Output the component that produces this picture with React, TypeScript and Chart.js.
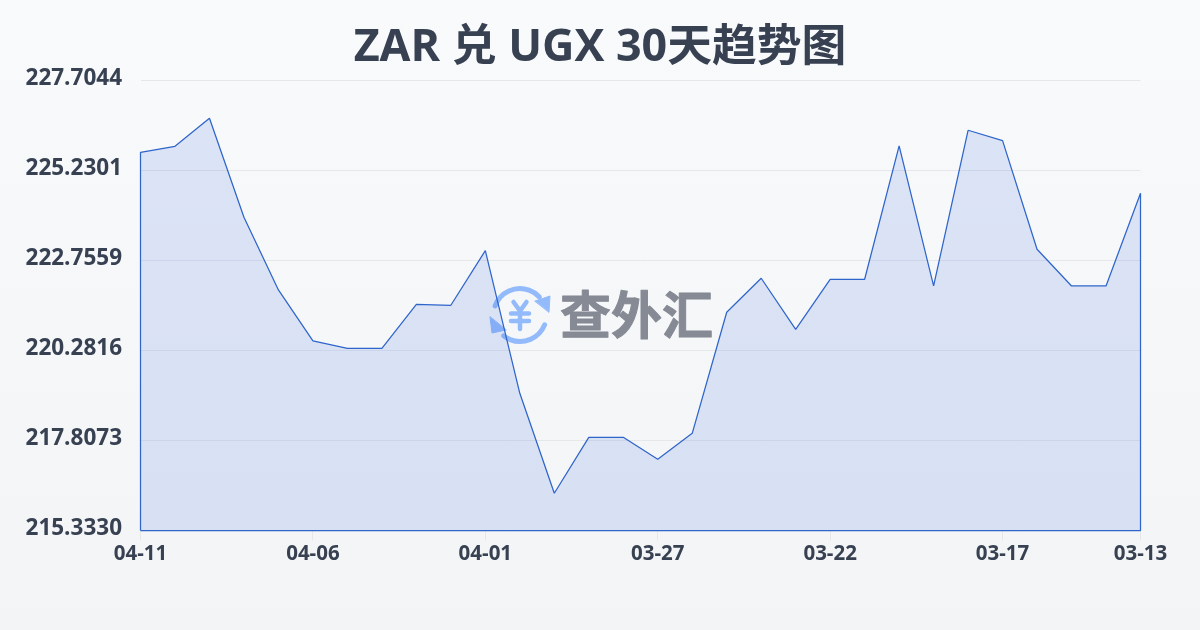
import React, { useEffect, useRef } from "react";
import { Chart, registerables } from "chart.js";

Chart.register(...registerables);

const titleText = "ZAR 兑 UGX 30天趋势图";
const dates = [
  "04-11", "04-10", "04-09", "04-08", "04-07", "04-06", "04-05", "04-04", "04-03", "04-02",
  "04-01", "03-31", "03-30", "03-29", "03-28", "03-27", "03-26", "03-25", "03-24", "03-23",
  "03-22", "03-21", "03-20", "03-19", "03-18", "03-17", "03-16", "03-15", "03-14", "03-13",
];
const rates = [
  225.73, 225.895, 226.665, 223.944, 221.945, 220.543, 220.342, 220.342, 221.552, 221.524,
  223.025, 219.105, 216.356, 217.895, 217.895, 217.29, 218.005, 221.332, 222.267, 220.864,
  222.239, 222.239, 225.904, 222.055, 226.335, 226.049, 223.064, 222.055, 222.055, 224.603,
];
const yTicks = [215.333, 217.8073, 220.2816, 222.7559, 225.2301, 227.7044];
const xTickIndexes = [0, 5, 10, 15, 20, 25, 29];
const sansStack = '"Open Sans", "Noto Sans CJK SC", sans-serif';

const watermark = {
  id: "watermark",
  beforeDatasetsDraw(chart: any) {
    const c = chart.ctx;
    c.save();
    c.strokeStyle = "#93bbfb";
    c.fillStyle = "#93bbfb";
    c.lineCap = "round";
    c.lineJoin = "round";
    c.lineWidth = 5;
    const deg = Math.PI / 180;
    c.beginPath();
    c.arc(520, 315, 26.5, -160 * deg, -43 * deg);
    c.stroke();
    c.beginPath();
    c.arc(520, 315, 26.5, 22 * deg, 128 * deg);
    c.stroke();
    c.lineWidth = 1;
    c.beginPath();
    c.moveTo(535, 301);
    c.lineTo(550, 296);
    c.lineTo(549, 312);
    c.closePath();
    c.fill();
    c.stroke();
    c.beginPath();
    c.moveTo(490, 317);
    c.lineTo(492, 333);
    c.lineTo(506, 330);
    c.closePath();
    c.fill();
    c.stroke();
    c.lineWidth = 4.5;
    c.beginPath();
    c.moveTo(513.5, 302);
    c.lineTo(520, 311);
    c.lineTo(526.5, 302);
    c.moveTo(520, 311);
    c.lineTo(520, 329);
    c.moveTo(511, 313.5);
    c.lineTo(529, 313.5);
    c.moveTo(511, 321);
    c.lineTo(529, 321);
    c.stroke();
    c.fillStyle = "#868a94";
    c.strokeStyle = "#868a94";
    c.lineWidth = 1;
    c.font = '700 51px "Noto Sans CJK SC", sans-serif';
    c.textAlign = "left";
    c.textBaseline = "middle";
    c.fillText("查外汇", 560, 315);
    c.strokeText("查外汇", 560, 315);
    c.restore();
  },
};

export default function App() {
  const ref = useRef<HTMLCanvasElement>(null);
  useEffect(() => {
    document.body.style.margin = "0";
    const points = rates.map((y, x) => ({ x, y }));
    const last = rates.length - 1;
    const outline = [
      { x: 0, y: yTicks[0] },
      ...points,
      { x: last, y: yTicks[0] },
      { x: 0, y: yTicks[0] },
    ];
    const chart = new Chart(ref.current!, {
      type: "line",
      data: {
        datasets: [
          {
            data: points,
            borderWidth: 0,
            backgroundColor: "rgba(37,90,215,0.135)",
            fill: "start",
            pointRadius: 0,
            tension: 0,
          },
          {
            data: outline,
            borderColor: "#2f66c9",
            borderWidth: 1.25,
            borderJoinStyle: "bevel",
            fill: false,
            pointRadius: 0,
            tension: 0,
            clip: false,
          },
        ],
      },
      options: {
        animation: false,
        responsive: false,
        layout: { padding: 0 },
        plugins: {
          legend: { display: false },
          tooltip: { enabled: false },
          title: {
            display: true,
            text: titleText,
            color: "#374151",
            font: { family: sansStack, size: 44.8, weight: "bold", lineHeight: 1.2 },
            padding: { top: 21, bottom: 5.7 },
          },
        },
        scales: {
          x: {
            type: "linear",
            min: 0,
            max: last,
            grid: { display: true, drawOnChartArea: false, drawTicks: true, tickLength: 10, color: "#e5e7eb" },
            border: { display: false },
            afterBuildTicks(scale: any) {
              scale.ticks = xTickIndexes.map((value) => ({ value }));
            },
            afterFit(scale: any) {
              scale.height = 99.5;
            },
            ticks: {
              autoSkip: false,
              maxRotation: 0,
              padding: 1,
              color: "#374151",
              font: { family: sansStack, size: 20.5, weight: "bold" },
              callback: (v: any) => dates[v],
            },
          },
          y: {
            min: yTicks[0],
            max: yTicks[yTicks.length - 1],
            grid: { color: "#e5e7eb", drawTicks: false, lineWidth: 1 },
            border: { display: false },
            afterBuildTicks(scale: any) {
              scale.ticks = yTicks.map((value) => ({ value }));
            },
            afterFit(scale: any) {
              scale.width = 140.5;
            },
            ticks: {
              padding: 18.5,
              labelOffset: -2,
              color: "#374151",
              font: { family: sansStack, size: 22.5, weight: "bold" },
              callback: (v: any) => Number(v).toFixed(4),
            },
          },
          rightMargin: {
            axis: "y",
            position: "right",
            display: true,
            grid: { display: false },
            border: { display: false },
            ticks: { display: false },
            afterFit(scale: any) {
              scale.width = 59.5;
            },
          },
        },
      },
      plugins: [watermark],
    } as any);
    return () => chart.destroy();
  }, []);
  return (
    <div style={{ width: 1200, height: 630, background: "linear-gradient(180deg, #f8fafc, #f3f4f6)" }}>
      <canvas ref={ref} width={1200} height={630} style={{ display: "block" }} />
    </div>
  );
}
